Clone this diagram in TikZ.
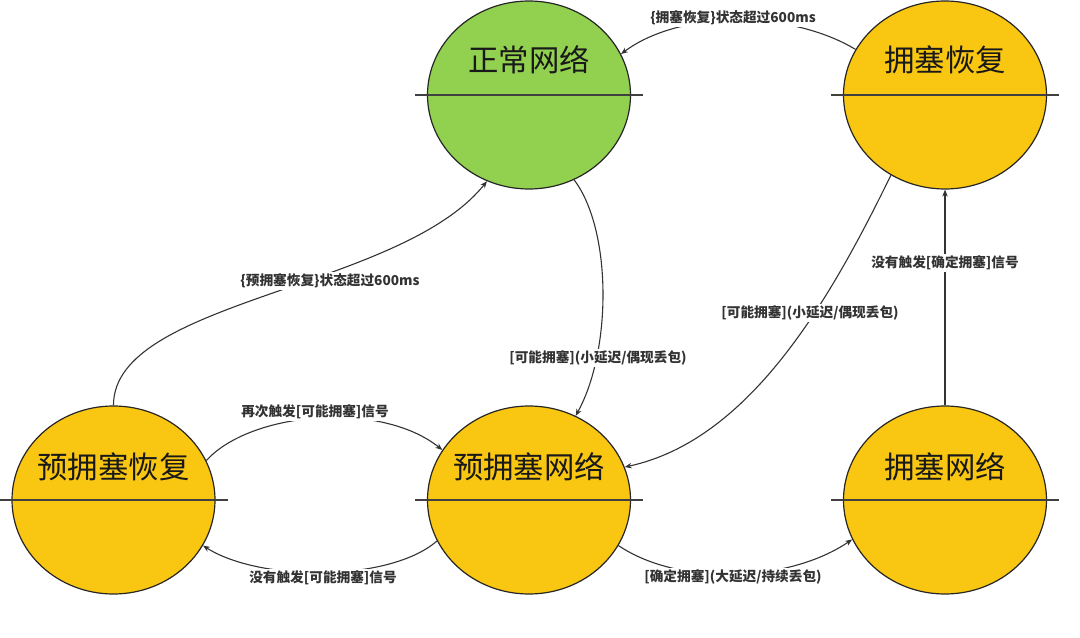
\documentclass[tikz,border=0pt]{standalone}
\usepackage{fontspec}
\setmainfont{Noto Sans CJK SC}
\usetikzlibrary{shapes.geometric,arrows.meta}
\definecolor{okgreen}{RGB}{146,208,80}
\definecolor{warnyel}{RGB}{249,198,18}
\definecolor{edgegray}{RGB}{51,51,51}
\tikzset{
  stnode/.style={ellipse,draw=black!85,line width=1.2bp,minimum width=203bp,minimum height=188bp,inner sep=0pt},
  sttext/.style={font=\fontsize{30.5}{32}\selectfont,text=black!90,inner sep=0pt},
  divline/.style={draw=black!75,line width=1.2bp},
  conn/.style={draw=edgegray,line width=1.1bp,-{Stealth[length=7bp,width=5.5bp]}},
  lbl/.style={font=\bfseries\fontsize{13.7}{15}\selectfont,text=edgegray,fill=white,inner sep=1.5bp}
}
\begin{document}
\begin{tikzpicture}[x=1bp,y=-1bp]
\useasboundingbox (0,0) rectangle (1080,638);
% states
\node[stnode,fill=okgreen] (zc) at (529,95) {};
\node[stnode,fill=warnyel] (yh) at (945,95) {};
\node[stnode,fill=warnyel] (yyh) at (113.5,500) {};
\node[stnode,fill=warnyel] (yyw) at (529,500) {};
\node[stnode,fill=warnyel] (yw) at (945,500) {};
% divider lines
\foreach \n in {zc,yh,yyh,yyw,yw}{
  \draw[divline] ([xshift=-114bp]\n.center) -- ([xshift=114bp]\n.center);
}
% state texts
\node[sttext] (tzc) at (529,60) {正常网络};
\node[sttext] (tyh) at (945,60) {拥塞恢复};
\node[sttext] (tyyh) at (113.5,467) {预拥塞恢复};
\node[sttext] (tyyw) at (529,467) {预拥塞网络};
\node[sttext] (tyw) at (945,467) {拥塞网络};
% connectors
\draw[conn] (yh.153.4) .. controls (790,10) and (680,10) .. (zc.24.3)
  node[lbl] at (733,18) {\{拥塞恢复\}状态超过600ms};
\draw[conn] (yyh.90) .. controls (113,300) and (400,290) .. (zc.244.2)
  node[lbl] at (330,281) {\{预拥塞恢复\}状态超过600ms};
\draw[conn] (zc.298.4) .. controls (612,230) and (612,350) .. (yyw.61.9)
  node[lbl] at (598,358) {[可能拥塞](小延迟/偶现丢包)};
\draw[conn] (yh.236) .. controls (830,300) and (750,440) .. (yyw.19)
  node[lbl] at (810,313) {[可能拥塞](小延迟/偶现丢包)};
\draw[conn] (yyh.23.6) .. controls (250,412) and (380,400) .. (yyw.150.6)
  node[lbl] at (315,412) {再次触发[可能拥塞]信号};
\draw[conn] (yyw.204.8) .. controls (390,582) and (260,582) .. (yyh.333.6)
  node[lbl] at (323,578) {没有触发[可能拥塞]信号};
\draw[conn] (yyw.333.9) .. controls (680,587) and (790,582) .. (yw.203.8)
  node[lbl] at (733,577) {[确定拥塞](大延迟/持续丢包)};
\draw[conn] (yw.90) -- (yh.270)
  node[lbl] at (945,263) {没有触发[确定拥塞]信号};
\end{tikzpicture}
\end{document}
